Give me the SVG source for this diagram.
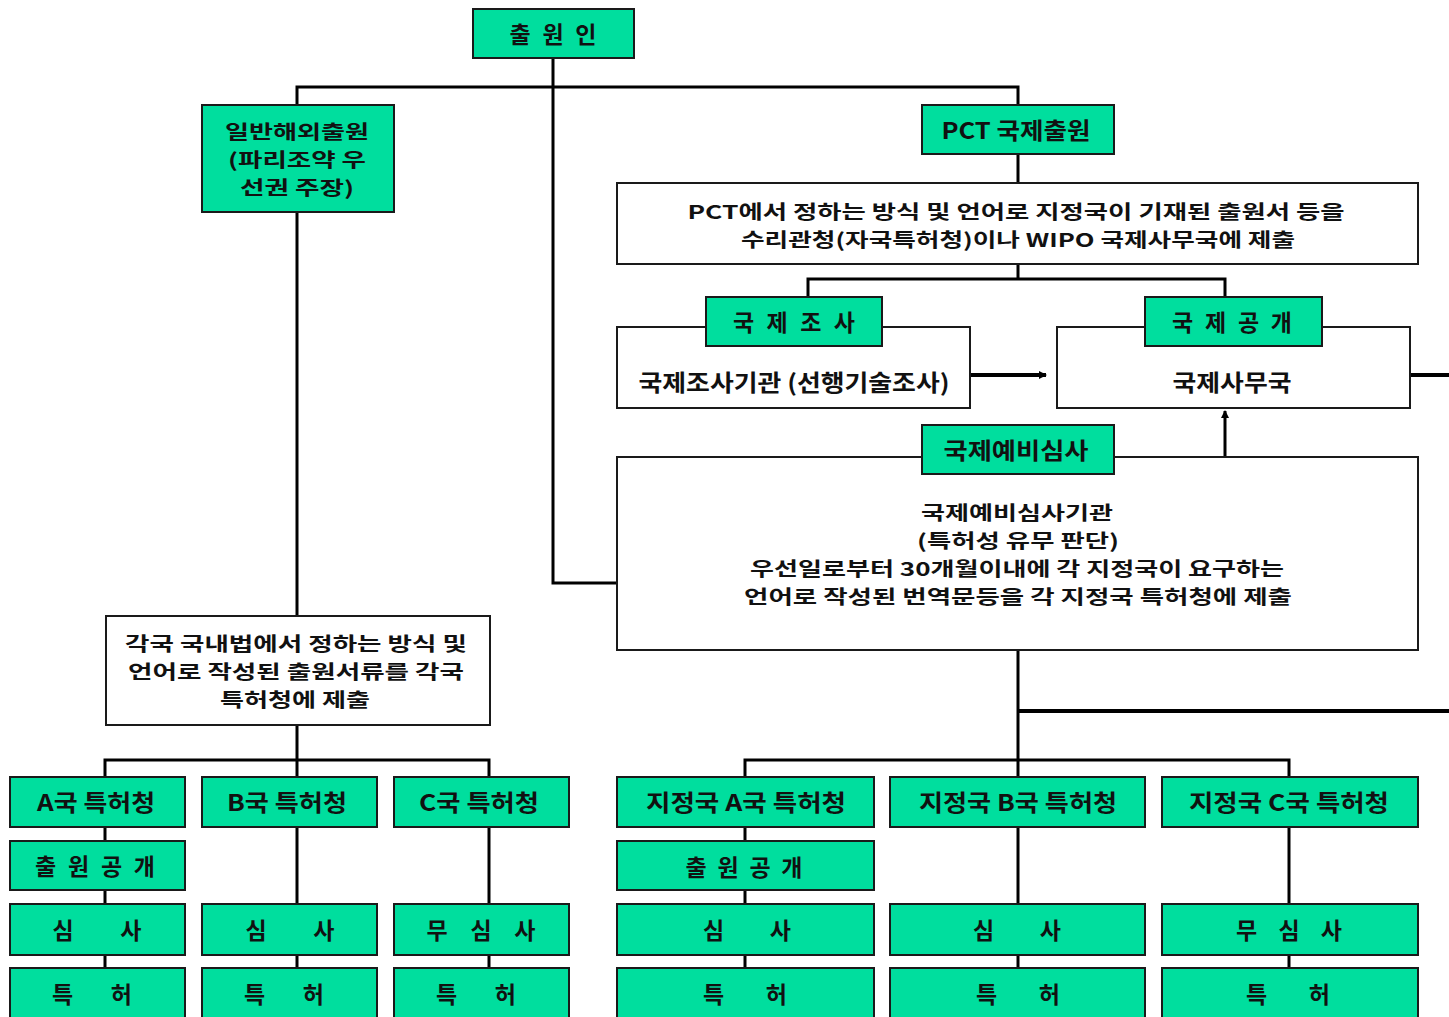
<svg xmlns="http://www.w3.org/2000/svg" width="1449" height="1017" viewBox="0 0 1449 1017">
<style>
.g{fill:#00DE9E;stroke:#1a1a1a;stroke-width:2}
.w{fill:#ffffff;stroke:#1a1a1a;stroke-width:2}
text{font-family:"Noto Sans CJK KR","Liberation Sans",sans-serif;font-weight:bold;font-size:23px;fill:#111;text-anchor:middle;dominant-baseline:central}
text.m{font-size:19px}
.c{fill:none;stroke:#000;stroke-width:3}
.t{fill:none;stroke:#000;stroke-width:4}
</style>
<defs>
<marker id="ah" markerWidth="8" markerHeight="8" refX="7" refY="4" orient="auto" markerUnits="userSpaceOnUse">
<path d="M0,0 L8,4 L0,8 Z" fill="#000"/>
</marker>
</defs>
<rect width="1449" height="1017" fill="#fff"/>
<g id="connectors">
<path class="c" d="M553,58 V583 H617"/>
<path class="c" d="M297,105 V87 H1018 V105"/>
<path class="c" d="M297,212 V616"/>
<path class="c" d="M1018,154 V183"/>
<path class="c" d="M1018,264 V279 M808,297 V279 H1225 V297"/>
<path class="t" d="M970,375 H1046" marker-end="url(#ah)"/>
<path class="c" d="M1225,457 V411" marker-end="url(#ah)"/>
<path class="t" d="M1410,375 H1449"/>
<path class="c" d="M1018,650 V777"/>
<path class="t" d="M1018,711 H1449"/>
<path class="c" d="M745,777 V760 H1289 V777"/>
<path class="c" d="M297,725 V777 M105,777 V760 H489 V777"/>
<path class="c" d="M105,827 V841 M105,890 V904 M105,955 V968"/>
<path class="c" d="M297,827 V904 M297,955 V968"/>
<path class="c" d="M489,827 V904 M489,955 V968"/>
<path class="c" d="M745,827 V841 M745,890 V904 M745,955 V968"/>
<path class="c" d="M1018,827 V904 M1018,955 V968"/>
<path class="c" d="M1289,827 V904 M1289,955 V968"/>
</g>
<g id="applicant"><rect class="g" x="473" y="9" width="161" height="49"/><text x="553" y="33" textLength="87" lengthAdjust="spacing">출 원 인</text></g>
<g id="general-filing"><rect class="g" x="202" y="105" width="192" height="107"/>
<text class="m"><tspan x="297" y="130" textLength="144" lengthAdjust="spacingAndGlyphs">일반해외출원</tspan><tspan x="297" y="158" textLength="138" lengthAdjust="spacingAndGlyphs">(파리조약 우</tspan><tspan x="297" y="186" textLength="114" lengthAdjust="spacingAndGlyphs">선권 주장)</tspan></text></g>
<g id="pct-filing"><rect class="g" x="922" y="105" width="192" height="49"/><text x="1016" y="129" textLength="149" lengthAdjust="spacingAndGlyphs">PCT 국제출원</text></g>
<g id="pct-submit"><rect class="w" x="617" y="183" width="801" height="81"/>
<text class="m"><tspan x="1016" y="210" textLength="657" lengthAdjust="spacingAndGlyphs">PCT에서 정하는 방식 및 언어로 지정국이 기재된 출원서 등을</tspan><tspan x="1018" y="238" textLength="554" lengthAdjust="spacingAndGlyphs">수리관청(자국특허청)이나 WIPO 국제사무국에 제출</tspan></text></g>
<g id="isa"><rect class="w" x="617" y="327" width="353" height="81"/><rect class="g" x="706" y="297" width="176" height="49"/>
<text x="794" y="321" textLength="122" lengthAdjust="spacing">국 제 조 사</text>
<text x="794" y="381" textLength="311" lengthAdjust="spacingAndGlyphs">국제조사기관 (선행기술조사)</text></g>
<g id="ib"><rect class="w" x="1057" y="327" width="353" height="81"/><rect class="g" x="1145" y="297" width="177" height="49"/>
<text x="1232" y="321" textLength="120" lengthAdjust="spacing">국 제 공 개</text>
<text x="1232" y="381" textLength="119" lengthAdjust="spacingAndGlyphs">국제사무국</text></g>
<g id="ipea"><rect class="w" x="617" y="457" width="801" height="193"/><rect class="g" x="922" y="425" width="192" height="49"/>
<text x="1016" y="449" textLength="145" lengthAdjust="spacingAndGlyphs">국제예비심사</text>
<text class="m"><tspan x="1017" y="511" textLength="192" lengthAdjust="spacingAndGlyphs">국제예비심사기관</tspan><tspan x="1018" y="539" textLength="202" lengthAdjust="spacingAndGlyphs">(특허성 유무 판단)</tspan><tspan x="1017" y="567" textLength="534" lengthAdjust="spacingAndGlyphs">우선일로부터 30개월이내에 각 지정국이 요구하는</tspan><tspan x="1018" y="595" textLength="548" lengthAdjust="spacingAndGlyphs">언어로 작성된 번역문등을 각 지정국 특허청에 제출</tspan></text></g>
<g id="national-submit"><rect class="w" x="106" y="616" width="384" height="109"/>
<text class="m"><tspan x="296" y="642" textLength="342" lengthAdjust="spacingAndGlyphs">각국 국내법에서 정하는 방식 및</tspan><tspan x="296" y="670" textLength="336" lengthAdjust="spacingAndGlyphs">언어로 작성된 출원서류를 각국</tspan><tspan x="295" y="698" textLength="150" lengthAdjust="spacingAndGlyphs">특허청에 제출</tspan></text></g>
<g id="a-office"><rect class="g" x="10" y="777" width="175" height="50"/><text x="96" y="801" textLength="118" lengthAdjust="spacingAndGlyphs">A국 특허청</text></g>
<g id="b-office"><rect class="g" x="202" y="777" width="175" height="50"/><text x="287" y="801" textLength="120" lengthAdjust="spacingAndGlyphs">B국 특허청</text></g>
<g id="c-office"><rect class="g" x="394" y="777" width="175" height="50"/><text x="479" y="801" textLength="120" lengthAdjust="spacingAndGlyphs">C국 특허청</text></g>
<g id="a-publication"><rect class="g" x="10" y="841" width="175" height="49"/><text x="95" y="865" textLength="120" lengthAdjust="spacing">출 원 공 개</text></g>
<g id="a-exam"><rect class="g" x="10" y="904" width="175" height="51"/><text x="97" y="929" textLength="89" lengthAdjust="spacing">심    사</text></g>
<g id="b-exam"><rect class="g" x="202" y="904" width="175" height="51"/><text x="290" y="929" textLength="89" lengthAdjust="spacing">심    사</text></g>
<g id="c-noexam"><rect class="g" x="394" y="904" width="175" height="51"/><text x="481" y="929" textLength="109" lengthAdjust="spacing">무 심 사</text></g>
<g id="a-patent"><rect class="g" x="10" y="968" width="175" height="60"/><text x="92" y="993" textLength="80" lengthAdjust="spacing">특    허</text></g>
<g id="b-patent"><rect class="g" x="202" y="968" width="175" height="60"/><text x="284" y="993" textLength="80" lengthAdjust="spacing">특    허</text></g>
<g id="c-patent"><rect class="g" x="394" y="968" width="175" height="60"/><text x="476" y="993" textLength="80" lengthAdjust="spacing">특    허</text></g>
<g id="da-office"><rect class="g" x="617" y="777" width="257" height="50"/><text x="746" y="801" textLength="200" lengthAdjust="spacingAndGlyphs">지정국 A국 특허청</text></g>
<g id="db-office"><rect class="g" x="890" y="777" width="255" height="50"/><text x="1018" y="801" textLength="198" lengthAdjust="spacingAndGlyphs">지정국 B국 특허청</text></g>
<g id="dc-office"><rect class="g" x="1162" y="777" width="256" height="50"/><text x="1289" y="801" textLength="200" lengthAdjust="spacingAndGlyphs">지정국 C국 특허청</text></g>
<g id="da-publication"><rect class="g" x="617" y="841" width="257" height="49"/><text x="744" y="866" textLength="117" lengthAdjust="spacing">출원공개</text></g>
<g id="da-exam"><rect class="g" x="617" y="904" width="257" height="51"/><text x="747" y="929" textLength="88" lengthAdjust="spacing">심    사</text></g>
<g id="db-exam"><rect class="g" x="890" y="904" width="255" height="51"/><text x="1017" y="929" textLength="88" lengthAdjust="spacing">심    사</text></g>
<g id="dc-noexam"><rect class="g" x="1162" y="904" width="256" height="51"/><text x="1289" y="929" textLength="106" lengthAdjust="spacing">무 심 사</text></g>
<g id="da-patent"><rect class="g" x="617" y="968" width="257" height="60"/><text x="745" y="993" textLength="84" lengthAdjust="spacing">특    허</text></g>
<g id="db-patent"><rect class="g" x="890" y="968" width="255" height="60"/><text x="1018" y="993" textLength="84" lengthAdjust="spacing">특    허</text></g>
<g id="dc-patent"><rect class="g" x="1162" y="968" width="256" height="60"/><text x="1288" y="993" textLength="84" lengthAdjust="spacing">특    허</text></g>
</svg>
